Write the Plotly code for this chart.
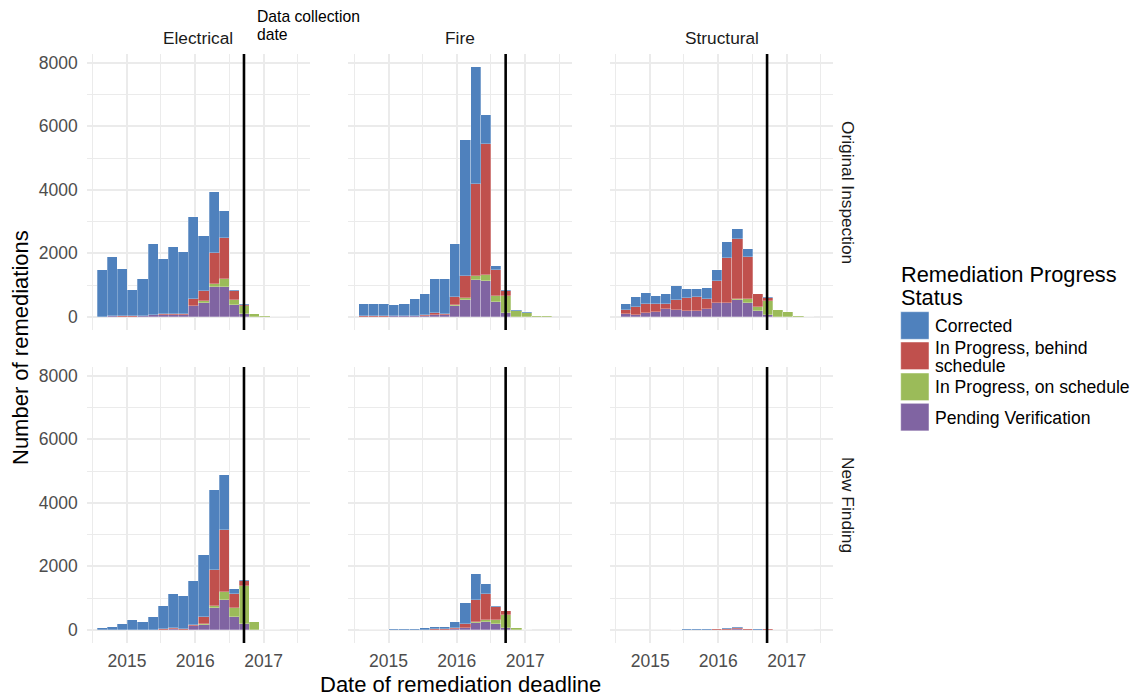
import plotly.graph_objects as go
import pandas as pd

# ---------------- data ----------------
STATUSES = ["Corrected", "In Progress, behind schedule", "In Progress, on schedule", "Pending Verification"]
STATUS_COLORS = ["#4F81BD", "#C0504D", "#9BBB59", "#8064A2"]
CATEGORIES = ["Electrical", "Fire", "Structural"]
FINDING_TYPES = ["Original Inspection", "New Finding"]

BIN_START = "2014-07-27"      # left edge of first histogram bin
BIN_DAYS = 54.4               # histogram bin width (days)
DATA_COLLECTION_DATE = "2016-09-18"

YEAR_TICKS = ["2015-01-01", "2016-01-01", "2017-01-01"]
YEAR_LABELS = ["2015", "2016", "2017"]
HALF_YEAR_TICKS = ["2014-07-01", "2015-07-01", "2016-07-01", "2017-07-01"]
COUNT_TICKS = [0, 2000, 4000, 6000, 8000]
COUNT_MINOR = [1000, 3000, 5000, 7000]

# counts per bin (19 bins), one list per status and panel
elec_orig_corrected = [1470, 1860, 1497, 846, 1157, 2224, 1747, 2115, 1968, 2594, 1751, 1932, 838, 30, 54, 0, 0, 5, 8]
elec_orig_behind    = [0, 5, 5, 5, 10, 15, 20, 40, 30, 200, 310, 976, 1293, 274, 20, 0, 0, 0, 0]
elec_orig_onsched   = [0, 0, 0, 0, 0, 0, 0, 0, 0, 10, 40, 105, 262, 168, 266, 85, 20, 0, 0]
elec_orig_pending   = [0, 15, 10, 10, 30, 50, 60, 60, 60, 346, 450, 935, 935, 378, 80, 10, 0, 0, 0]

fire_orig_corrected = [380, 390, 390, 353, 380, 516, 654, 1061, 1102, 1670, 4286, 3685, 913, 137, 22, 21, 32, 0, 0]
fire_orig_behind    = [30, 20, 10, 10, 10, 20, 40, 86, 35, 264, 695, 2909, 4106, 798, 136, 0, 0, 0, 0]
fire_orig_onsched   = [0, 0, 0, 0, 0, 0, 0, 0, 0, 20, 60, 105, 199, 200, 546, 179, 121, 40, 40]
fire_orig_pending   = [10, 10, 10, 15, 20, 20, 30, 50, 60, 346, 535, 1176, 1134, 472, 126, 10, 5, 0, 0]

struct_orig_corrected = [190, 315, 356, 251, 325, 441, 294, 272, 357, 357, 504, 326, 252, 20, 42, 0, 0, 0, 0]
struct_orig_behind    = [146, 262, 284, 263, 179, 335, 409, 431, 325, 673, 1418, 1869, 1313, 399, 105, 0, 0, 0, 0]
struct_orig_onsched   = [0, 0, 0, 0, 0, 0, 0, 0, 0, 0, 10, 42, 127, 126, 440, 205, 147, 20, 10]
struct_orig_pending   = [74, 63, 126, 147, 231, 200, 189, 189, 231, 450, 430, 535, 450, 189, 53, 5, 0, 0, 0]

elec_new_corrected = [42, 74, 168, 295, 253, 405, 727, 1077, 1054, 1401, 1958, 2516, 1706, 158, 31, 0, 5, 3, 0]
elec_new_behind    = [0, 0, 0, 0, 0, 0, 10, 30, 10, 31, 212, 1137, 1980, 453, 158, 0, 0, 0, 0]
elec_new_onsched   = [0, 0, 0, 0, 0, 0, 0, 0, 0, 0, 20, 53, 231, 264, 1190, 222, 0, 0, 0]
elec_new_pending   = [0, 0, 0, 0, 0, 5, 10, 20, 10, 116, 158, 684, 948, 410, 179, 10, 0, 0, 0]

fire_new_corrected = [3, 10, 5, 20, 20, 32, 50, 60, 60, 190, 663, 843, 316, 21, 10, 0, 10, 0, 0]
fire_new_behind    = [0, 0, 0, 0, 0, 0, 3, 10, 10, 33, 126, 684, 842, 400, 126, 0, 0, 0, 0]
fire_new_onsched   = [0, 0, 0, 0, 0, 0, 0, 0, 0, 0, 0, 32, 63, 148, 400, 60, 0, 0, 0]
fire_new_pending   = [0, 0, 0, 0, 0, 0, 0, 4, 4, 30, 53, 210, 232, 168, 53, 3, 0, 0, 0]

struct_new_corrected = [0, 0, 0, 3, 5, 5, 6, 5, 5, 8, 5, 54, 5, 5, 0, 5, 3, 3, 2]
struct_new_behind    = [0, 0, 0, 0, 0, 3, 6, 10, 10, 12, 30, 23, 10, 10, 15, 0, 0, 0, 0]
struct_new_onsched   = [0, 0, 0, 0, 0, 0, 0, 0, 0, 0, 0, 0, 0, 0, 5, 0, 0, 0, 0]
struct_new_pending   = [0, 0, 0, 0, 0, 0, 0, 0, 0, 0, 10, 20, 10, 0, 0, 0, 0, 0, 0]

PANELS = [
    [elec_orig_corrected, elec_orig_behind, elec_orig_onsched, elec_orig_pending],
    [fire_orig_corrected, fire_orig_behind, fire_orig_onsched, fire_orig_pending],
    [struct_orig_corrected, struct_orig_behind, struct_orig_onsched, struct_orig_pending],
    [elec_new_corrected, elec_new_behind, elec_new_onsched, elec_new_pending],
    [fire_new_corrected, fire_new_behind, fire_new_onsched, fire_new_pending],
    [struct_new_corrected, struct_new_behind, struct_new_onsched, struct_new_pending],
]

# ---------------- layout geometry ----------------
W, H = 1137, 700
FONT = "Liberation Sans, Arial, Helvetica, sans-serif"
GRID = "#EBEBEB"
TICK_COLOR = "#4D4D4D"

def px_x(p):
    return p / W

def px_y(p):
    return 1 - p / H

COL_PX = [(86.7, 310.0), (348.3, 571.7), (610.0, 833.0)]
ROW_PX = [(54.0, 330.0), (367.0, 643.0)]
X_RANGE = ["2014-05-31", "2017-09-06"]
Y_RANGE = [-415, 8280]

start = pd.Timestamp(BIN_START)
n_bins = len(elec_orig_corrected)
centers = [start + pd.Timedelta(days=BIN_DAYS * (i + 0.5)) for i in range(n_bins)]
width_ms = BIN_DAYS * 86400000

fig = go.Figure()

# stack bottom -> top: Pending, On schedule, Behind, Corrected
stack_order = [3, 2, 1, 0]
for p, panel in enumerate(PANELS):
    ax = "" if p == 0 else str(p + 1)
    for s in stack_order:
        vals = [v if v > 0 else None for v in panel[s]]
        fig.add_trace(go.Bar(
            x=centers, y=vals, width=[width_ms] * n_bins,
            marker=dict(color=STATUS_COLORS[s], line=dict(color="rgba(255,255,255,0.45)", width=0.6)),
            name=STATUSES[s], showlegend=False,
            xaxis="x" + ax, yaxis="y" + ax,
        ))

layout = dict(
    width=W, height=H, barmode="stack", bargap=0,
    plot_bgcolor="white", paper_bgcolor="white",
    margin=dict(l=0, r=0, t=0, b=0),
    font=dict(family=FONT, color=TICK_COLOR),
    showlegend=False,
)

for p in range(6):
    r, c = divmod(p, 3)
    ax = "" if p == 0 else str(p + 1)
    layout["xaxis" + ax] = dict(
        domain=[px_x(COL_PX[c][0]), px_x(COL_PX[c][1])],
        anchor="y" + ax, type="date", range=X_RANGE,
        tickmode="array", tickvals=YEAR_TICKS, ticktext=YEAR_LABELS,
        showticklabels=(r == 1), ticks="", ticklabelstandoff=5,
        tickfont=dict(size=17.5, color=TICK_COLOR, family=FONT),
        showgrid=True, gridcolor=GRID, gridwidth=1.6,
        minor=dict(tickmode="array", tickvals=HALF_YEAR_TICKS, showgrid=True, gridcolor=GRID, gridwidth=0.8),
        zeroline=False, showline=False, fixedrange=True,
    )
    layout["yaxis" + ax] = dict(
        domain=[px_y(ROW_PX[r][1]), px_y(ROW_PX[r][0])],
        anchor="x" + ax, range=Y_RANGE,
        tickmode="array", tickvals=COUNT_TICKS,
        showticklabels=(c == 0), ticks="", ticklabelstandoff=8,
        tickfont=dict(size=17.5, color=TICK_COLOR, family=FONT),
        showgrid=True, gridcolor=GRID, gridwidth=1.6,
        minor=dict(tickmode="array", tickvals=COUNT_MINOR, showgrid=True, gridcolor=GRID, gridwidth=0.8),
        zeroline=False, showline=False, fixedrange=True,
    )

shapes = []
for p in range(6):
    ax = "" if p == 0 else str(p + 1)
    shapes.append(dict(type="line", xref="x" + ax, yref="y" + ax + " domain",
                       x0=DATA_COLLECTION_DATE, x1=DATA_COLLECTION_DATE, y0=0, y1=1,
                       line=dict(color="black", width=2.6), layer="above"))

annotations = []
# strip labels (columns)
for c, name in enumerate(CATEGORIES):
    annotations.append(dict(text=name, xref="paper", yref="paper",
                            x=px_x((COL_PX[c][0] + COL_PX[c][1]) / 2), y=px_y(38),
                            xanchor="center", yanchor="middle", showarrow=False,
                            font=dict(size=17.3, color="#1A1A1A", family=FONT)))
# strip labels (rows)
for r, name in enumerate(FINDING_TYPES):
    annotations.append(dict(text=name, xref="paper", yref="paper",
                            x=px_x(848), y=px_y((ROW_PX[r][0] + ROW_PX[r][1]) / 2),
                            xanchor="center", yanchor="middle", textangle=90, showarrow=False,
                            font=dict(size=17.3, color="#1A1A1A", family=FONT)))
# axis titles
annotations.append(dict(text="Number of remediations", xref="paper", yref="paper",
                        x=px_x(20), y=px_y(348), textangle=-90, showarrow=False,
                        xanchor="center", yanchor="middle",
                        font=dict(size=22, color="black", family=FONT)))
annotations.append(dict(text="Date of remediation deadline", xref="paper", yref="paper",
                        x=px_x(460), y=px_y(684), showarrow=False,
                        xanchor="center", yanchor="middle",
                        font=dict(size=22, color="black", family=FONT)))
# data collection label
for i, line in enumerate(["Data collection", "date"]):
    annotations.append(dict(text=line, xref="x", yref="paper", x=DATA_COLLECTION_DATE,
                            xshift=11, y=px_y(17 + 17 * i), xanchor="left", yanchor="middle",
                            showarrow=False, font=dict(size=15.7, color="black", family=FONT)))

# custom legend
annotations.append(dict(text="Remediation Progress", xref="paper", yref="paper",
                        x=px_x(899), y=px_y(275), xanchor="left", yanchor="middle", showarrow=False,
                        font=dict(size=21.8, color="black", family=FONT)))
annotations.append(dict(text="Status", xref="paper", yref="paper",
                        x=px_x(899), y=px_y(297), xanchor="left", yanchor="middle", showarrow=False,
                        font=dict(size=21.8, color="black", family=FONT)))
key_tops = [311.7, 342.0, 373.0, 403.3]
key_labels = [["Corrected"], ["In Progress, behind", "schedule"], ["In Progress, on schedule"], ["Pending Verification"]]
label_centers = [[326], [348, 366], [387], [418]]
for k in range(4):
    shapes.append(dict(type="rect", xref="paper", yref="paper",
                       x0=px_x(900.7), x1=px_x(929), y0=px_y(key_tops[k] + 27.6), y1=px_y(key_tops[k]),
                       fillcolor=STATUS_COLORS[k], line=dict(color="rgba(255,255,255,0.6)", width=0.8)))
    for txt, yc in zip(key_labels[k], label_centers[k]):
        annotations.append(dict(text=txt, xref="paper", yref="paper",
                                x=px_x(933), y=px_y(yc), xanchor="left", yanchor="middle", showarrow=False,
                                font=dict(size=17.6, color="black", family=FONT)))

layout["shapes"] = shapes
layout["annotations"] = annotations
fig.update_layout(**layout)
fig.write_html("out.html",
               config={"displayModeBar": False},
               post_script="document.body.style.margin='0';document.body.style.overflow='hidden';")
